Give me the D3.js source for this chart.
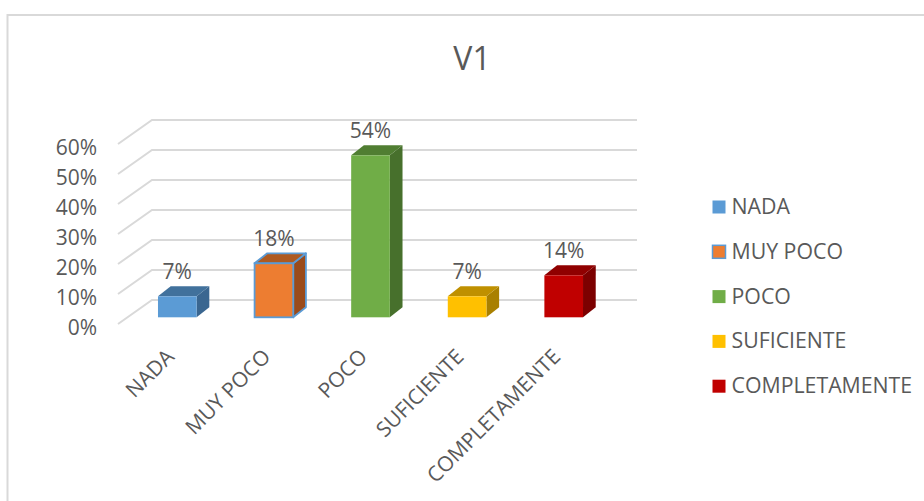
<!DOCTYPE html>
<html>
<head>
<meta charset="utf-8">
<script src="https://cdn.jsdelivr.net/npm/d3@7"></script>
<style>
  html, body { margin: 0; padding: 0; background: #fff; }
  svg { display: block; }
  text { font-family: "Open Sans", "Noto Sans", sans-serif; fill: #595959; }
</style>
</head>
<body>
<svg id="chart" width="924" height="501"></svg>
<script>
// Chart data
const title = "V1";
const categories = ["NADA", "MUY POCO", "POCO", "SUFICIENTE", "COMPLETAMENTE"];
const values = [0.07, 0.18, 0.54, 0.07, 0.14];
const valueLabels = ["7%", "18%", "54%", "7%", "14%"];
const tickValues = [0, 0.1, 0.2, 0.3, 0.4, 0.5, 0.6];
const tickLabels = ["0%", "10%", "20%", "30%", "40%", "50%", "60%"];

// Face colours for each column: front, top, side
const frontColors = ["#5B9BD5", "#ED7D31", "#70AD47", "#FFC000", "#C00000"];
const topColors   = ["#41719C", "#AE5A21", "#507E32", "#BF9000", "#900000"];
const sideColors  = ["#3A6690", "#9A4B1B", "#47702C", "#A98000", "#7C0000"];
const outlineColor = "#5B9BD5";

const svg = d3.select("#chart");

// Outer chart frame
svg.append("rect")
  .attr("x", 7.5).attr("y", 15)
  .attr("width", 940).attr("height", 520)
  .attr("fill", "none").attr("stroke", "#D9D9D9").attr("stroke-width", 2);

// Title
svg.append("text")
  .attr("x", 472).attr("y", 69.5)
  .attr("text-anchor", "middle")
  .style("font-size", "32px")
  .text(title);

// 3D geometry: floor depth vector and column depth vector
const floorDX = 34, floorDY = -24;
const colDX = 12.7, colDY = -10;

// Value scales for the front floor edge, the back wall and the column face plane
const yFront = d3.scaleLinear().domain([0, 0.6]).range([324, 144]);
const yBack  = d3.scaleLinear().domain([0, 0.6]).range([300, 120]);
const yCol   = d3.scaleLinear().domain([0, 0.6]).range([317.3, 137.3]);

const xFrontLeft = 118, xBackLeft = xFrontLeft + floorDX, xBackRight = 637;

// Category band along the column face plane
const x = d3.scaleBand()
  .domain(categories)
  .range([129, 612])
  .paddingInner(0.6)
  .paddingOuter(0.3);

// Gridlines: diagonal on the side wall then horizontal on the back wall
const grid = svg.append("g");
grid.selectAll("polyline")
  .data(tickValues)
  .join("polyline")
  .attr("points", t => [
      [xFrontLeft, yFront(t)],
      [xBackLeft, yBack(t)],
      [xBackRight, yBack(t)]
    ].map(p => p.join(",")).join(" "))
  .attr("fill", "none")
  .attr("stroke", "#D9D9D9")
  .attr("stroke-width", 2);

// Value axis
const yAxis = svg.append("g")
  .attr("transform", "translate(100,4)")
  .call(d3.axisLeft(yFront)
    .tickValues(tickValues)
    .tickFormat((d, i) => tickLabels[i])
    .tickSize(0)
    .tickPadding(3));
yAxis.select(".domain").remove();
yAxis.selectAll("text")
  .style("font-size", "21px")
  .style("font-family", "'Open Sans', sans-serif")
  .attr("fill", "#595959");

// Columns
const cols = svg.append("g").selectAll("g")
  .data(categories)
  .join("g");

cols.each(function(c, i) {
  const g = d3.select(this);
  const x0 = x(c), w = x.bandwidth();
  const yb = yCol(0), yt = yCol(values[i]);
  const stroke = i === 1 ? outlineColor : "none";
  const sw = i === 1 ? 1.8 : 0;
  // side face
  g.append("polygon")
    .attr("points", [[x0 + w, yt], [x0 + w + colDX, yt + colDY], [x0 + w + colDX, yb + colDY], [x0 + w, yb]]
      .map(p => p.join(",")).join(" "))
    .attr("fill", sideColors[i]).attr("stroke", stroke).attr("stroke-width", sw)
    .attr("stroke-linejoin", "round");
  // top face
  g.append("polygon")
    .attr("points", [[x0, yt], [x0 + colDX, yt + colDY], [x0 + w + colDX, yt + colDY], [x0 + w, yt]]
      .map(p => p.join(",")).join(" "))
    .attr("fill", topColors[i]).attr("stroke", stroke).attr("stroke-width", sw)
    .attr("stroke-linejoin", "round");
  // front face
  g.append("rect")
    .attr("x", x0).attr("y", yt)
    .attr("width", w).attr("height", yb - yt)
    .attr("fill", frontColors[i]).attr("stroke", stroke).attr("stroke-width", sw);
  // value label
  g.append("text")
    .attr("x", x0 + w / 2)
    .attr("y", yt + colDY - 7)
    .attr("text-anchor", "middle")
    .style("font-size", "21px")
    .text(valueLabels[i]);
});

// Category axis with rotated labels
const xAxis = svg.append("g")
  .attr("transform", "translate(0,345)")
  .call(d3.axisBottom(x).tickSize(0));
xAxis.select(".domain").remove();
xAxis.selectAll("text")
  .attr("x", 0).attr("y", 0).attr("dy", 0)
  .attr("text-anchor", "end")
  .attr("transform", "translate(-2,13) rotate(-45)")
  .style("font-size", "21px")
  .style("font-family", "'Open Sans', sans-serif")
  .attr("fill", "#595959");

// Legend
const legend = svg.append("g").attr("transform", "translate(712,200)");
const items = legend.selectAll("g")
  .data(categories)
  .join("g")
  .attr("transform", (d, i) => `translate(0,${i * 44.8})`);
items.append("rect")
  .attr("x", 0.5).attr("y", 0.5)
  .attr("width", 13).attr("height", 13)
  .attr("fill", (d, i) => frontColors[i])
  .attr("stroke", (d, i) => i === 1 ? outlineColor : "none")
  .attr("stroke-width", (d, i) => i === 1 ? 1.5 : 0);
items.append("text")
  .attr("x", 19.5).attr("y", 14)
  .style("font-size", "21.3px")
  .text(d => d);
</script>
</body>
</html>
